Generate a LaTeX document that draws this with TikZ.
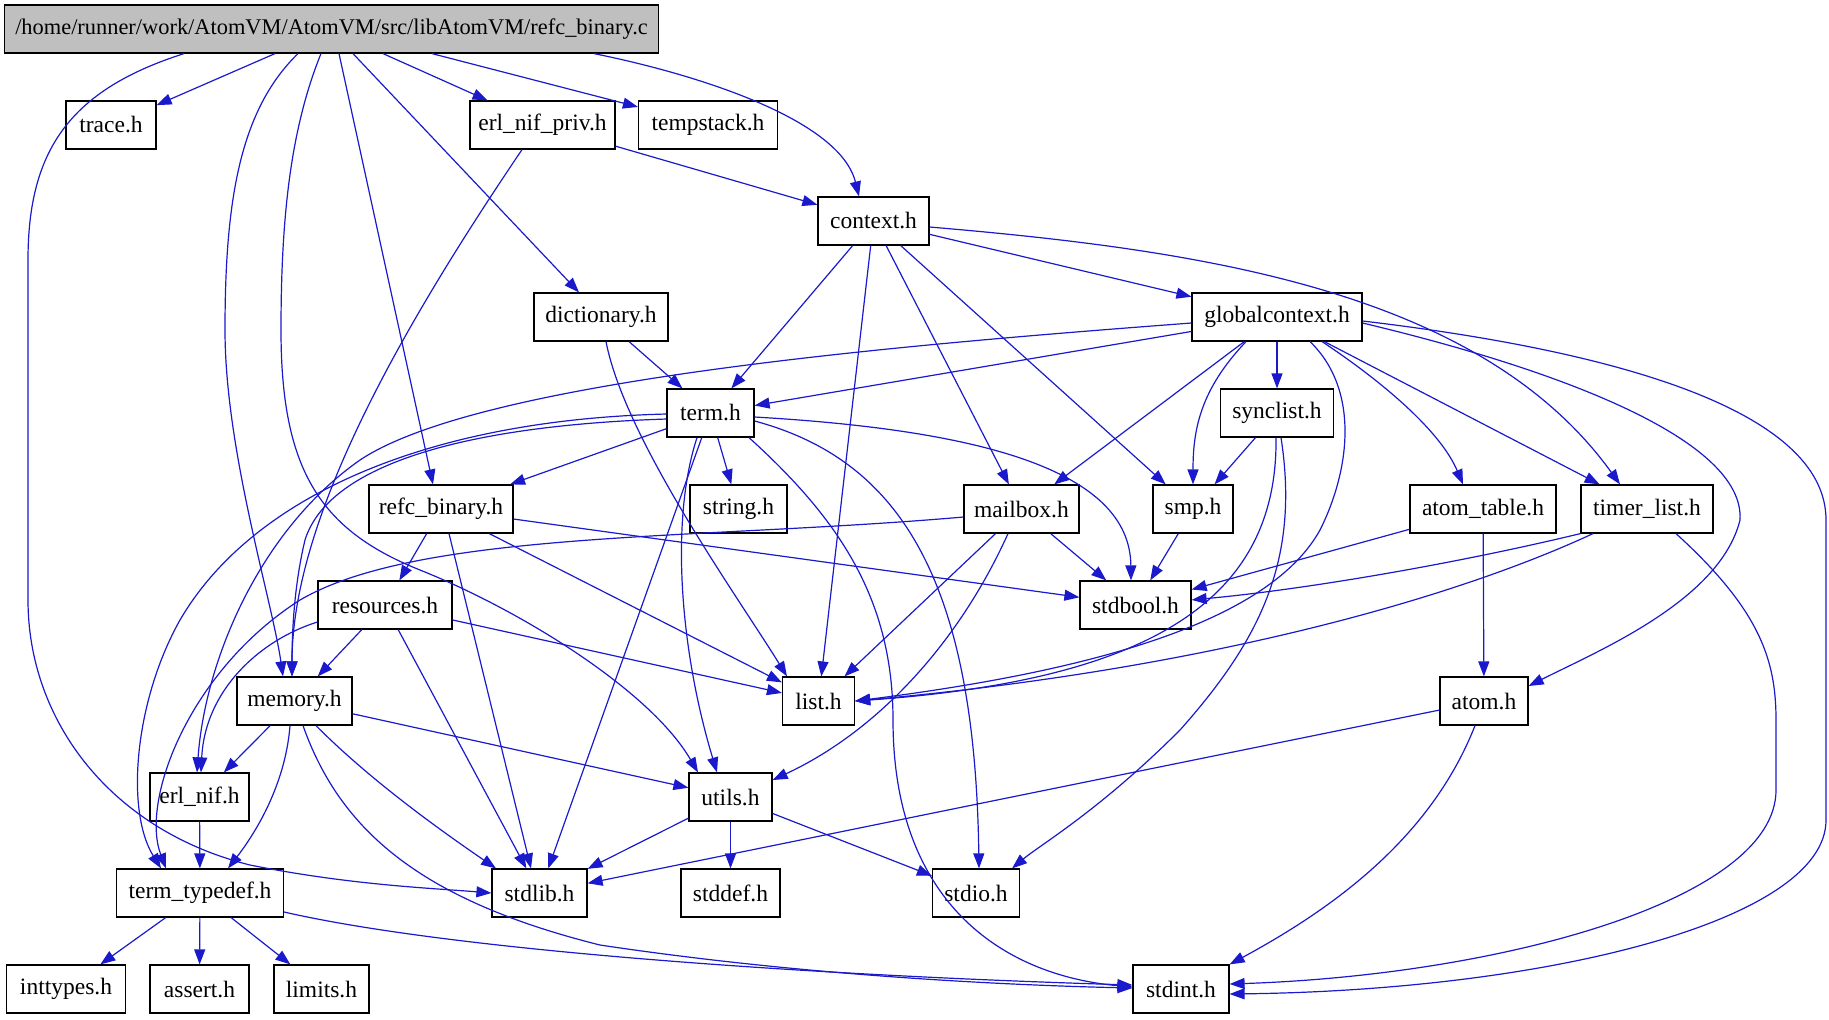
\documentclass[tikz,border=0pt]{standalone}
\usepackage{fontspec}
\setmainfont{Liberation Serif}
\usetikzlibrary{arrows.meta}
\definecolor{edgeblue}{RGB}{26,26,204}
\definecolor{mainfill}{RGB}{191,191,191}
\tikzset{
  box/.style={draw=black, line width=0.6pt, fill=white, rectangle, inner sep=0pt,
    minimum height=24pt, font=\fontsize{11.75}{14}\selectfont},
  mainbox/.style={box, fill=mainfill, font=\fontsize{11.2}{14}\selectfont},
  e/.style={draw=edgeblue, line width=0.6pt, -{Triangle[length=7.5pt,width=5.5pt]}},
}
\begin{document}
\begin{tikzpicture}[x=0.5pt, y=-0.5pt]
\useasboundingbox (0,0) rectangle (1829,1019);
\fill[white] (0,0) rectangle (1829,1019);
% nodes
\node[mainbox, minimum width=327pt] (main) at (331.5,29) {/home/runner/work/AtomVM/AtomVM/src/libAtomVM/refc\_binary.c};
\node[box, minimum width=45pt] (trace) at (111,125) {trace.h};
\node[box, minimum width=72.5pt] (enp) at (542.5,125) {erl\_nif\_priv.h};
\node[box, minimum width=69.5pt] (tempstack) at (708,125) {tempstack.h};
\node[box, minimum width=55.5pt] (context) at (873.5,221) {context.h};
\node[box, minimum width=67pt] (dictionary) at (601,317) {dictionary.h};
\node[box, minimum width=85pt] (gc) at (1277,317) {globalcontext.h};
\node[box, minimum width=43.5pt] (term) at (710.5,413) {term.h};
\node[box, minimum width=56.5pt] (synclist) at (1277,413) {synclist.h};
\node[box, minimum width=72pt] (refcbin) at (441,509) {refc\_binary.h};
\node[box, minimum width=48.5pt] (string) at (738.5,509) {string.h};
\node[box, minimum width=57.5pt] (mailbox) at (1021.5,509) {mailbox.h};
\node[box, minimum width=40pt] (smp) at (1193,509) {smp.h};
\node[box, minimum width=73pt] (atomtable) at (1483,509) {atom\_table.h};
\node[box, minimum width=66pt] (timer) at (1647,509) {timer\_list.h};
\node[box, minimum width=67pt] (resources) at (385,605) {resources.h};
\node[box, minimum width=55.5pt] (stdbool) at (1135.5,605) {stdbool.h};
\node[box, minimum width=57.5pt] (memory) at (294.5,701) {memory.h};
\node[box, minimum width=36pt] (list) at (818.5,701) {list.h};
\node[box, minimum width=44pt] (atom) at (1484,701) {atom.h};
\node[box, minimum width=49.5pt] (erlnif) at (199.5,797) {erl\_nif.h};
\node[box, minimum width=41.5pt] (utils) at (730.5,797) {utils.h};
\node[box, minimum width=83.5pt] (tt) at (200,893) {term\_typedef.h};
\node[box, minimum width=47.5pt] (stdlib) at (539.5,893) {stdlib.h};
\node[box, minimum width=49.5pt] (stddef) at (730.5,893) {stddef.h};
\node[box, minimum width=43.5pt] (stdio) at (976,893) {stdio.h};
\node[box, minimum width=59.5pt] (inttypes) at (66,989) {inttypes.h};
\node[box, minimum width=49.5pt] (assert) at (199.5,989) {assert.h};
\node[box, minimum width=47.5pt] (limits) at (321.5,989) {limits.h};
\node[box, minimum width=48pt] (stdint) at (1181,989) {stdint.h};
% edges from main
\draw[e] (main.south -| 275,0) -- (trace);
\draw[e] (main.south -| 383,0) -- (enp);
\draw[e] (main.south -| 432,0) -- (tempstack);
\draw[e] (main.south -| 594,0) .. controls (700,75) and (840,120) .. (context.north -| 859,0);
\draw[e] (main.south -| 353,0) -- (dictionary.north -| 579,0);
\draw[e] (main.south -| 339,0) -- (refcbin.north -| 433,0);
\draw[e] (main.south -| 298,0) .. controls (240,110) and (225,200) .. (225,330) .. controls (225,450) and (272,600) .. (memory.north -| 283,0);
\draw[e] (main.south -| 321,0) .. controls (290,130) and (281,220) .. (281,330) .. controls (281,470) and (320,530) .. (420,570) .. controls (520,610) and (650,690) .. (utils.north -| 698,0);
\draw[e] (main.south -| 184,0) .. controls (70,90) and (28,150) .. (28,260) -- (28,600) .. controls (28,720) and (110,830) .. (250,865) .. controls (350,885) and (430,888) .. (stdlib.west);
% erl_nif_priv
\draw[e] (enp) -- (context);
\draw[e] (enp.south -| 522,0) .. controls (400,330) and (292,520) .. (memory.north -| 292,0);
% context
\draw[e] (context) -- (term);
\draw[e] (context) -- (list);
\draw[e] (context) -- (mailbox);
\draw[e] (context) -- (smp);
\draw[e] (context) -- (gc);
\draw[e] (context.east |- 0,227) .. controls (1200,250) and (1480,290) .. (timer.north -| 1620,0);
% dictionary
\draw[e] (dictionary) -- (term);
\draw[e] (dictionary.south -| 606,0) .. controls (625,440) and (740,600) .. (list.north -| 787,0);
% globalcontext
\draw[e] (gc) -- (term);
\draw[e] (gc.west |- 0,323) .. controls (900,345) and (480,380) .. (360,460) .. controls (260,530) and (205,660) .. (erlnif.north -| 197,0);
\draw[e] (gc) -- (synclist);
\draw[e] (gc) -- (mailbox);
\draw[e] (gc.south -| 1246,0) .. controls (1200,390) and (1193,430) .. (smp);
\draw[e] (gc.south -| 1310,0) .. controls (1360,390) and (1350,470) .. (1320,530) .. controls (1270,620) and (1100,670) .. (list.east);
\draw[e] (gc.south -| 1322,0) .. controls (1380,380) and (1440,430) .. (atomtable.north -| 1463,0);
\draw[e] (gc) -- (timer);
\draw[e] (gc.east |- 0,323) .. controls (1560,370) and (1745,440) .. (1740,520) .. controls (1720,600) and (1600,650) .. (atom.east |- 0,686);
\draw[e] (gc.east |- 0,321) .. controls (1650,355) and (1826,420) .. (1826,520) -- (1826,820) .. controls (1826,920) and (1550,990) .. (stdint.east |- 0,994);
% term
\draw[e] (term.west |- 0,414) .. controls (420,420) and (250,500) .. (180,620) .. controls (135,700) and (125,810) .. (tt.north -| 161,0);
\draw[e] (term.west |- 0,419) .. controls (480,425) and (330,460) .. (305,540) .. controls (293,590) and (292,640) .. (memory.north -| 292,0);
\draw[e] (term) -- (refcbin);
\draw[e] (term) -- (stdlib);
\draw[e] (term.south -| 697,0) .. controls (670,520) and (680,650) .. (utils.north -| 717,0);
\draw[e] (term) -- (string);
\draw[e] (term.south -| 749,0) .. controls (840,520) and (893,600) .. (893,720) .. controls (893,900) and (1000,975) .. (stdint.west |- 0,987);
\draw[e] (term.east |- 0,417) .. controls (980,430) and (1130,470) .. (stdbool.north -| 1131,0);
\draw[e] (term.east |- 0,421) .. controls (900,460) and (975,580) .. (stdio.north -| 979,0);
% synclist
\draw[e] (synclist) -- (smp);
\draw[e] (synclist.south -| 1276,0) .. controls (1278,600) and (1150,680) .. (list.east);
\draw[e] (synclist.south -| 1281,0) .. controls (1300,560) and (1260,640) .. (1180,730) .. controls (1100,810) and (1040,845) .. (stdio.north -| 1012,0);
% refc_binary.h
\draw[e] (refcbin) -- (resources);
\draw[e] (refcbin.south -| 449,0) -- (stdlib.north -| 531,0);
\draw[e] (refcbin) -- (list);
\draw[e] (refcbin) -- (stdbool);
% mailbox
\draw[e] (mailbox.west |- 0,517) .. controls (700,540) and (420,530) .. (300,600) .. controls (190,670) and (140,800) .. (tt.north -| 166,0);
\draw[e] (mailbox) -- (stdbool);
\draw[e] (mailbox) -- (list);
\draw[e] (mailbox.south -| 1008,0) .. controls (960,640) and (880,730) .. (utils.east |- 0,780);
% smp, atom_table, timer_list
\draw[e] (smp) -- (stdbool);
\draw[e] (atomtable) -- (stdbool);
\draw[e] (atomtable) -- (atom);
\draw[e] (timer.south west) .. controls (1450,565) and (1300,590) .. (stdbool);
\draw[e] (timer.south -| 1593,0) .. controls (1450,600) and (1200,670) .. (list.east);
\draw[e] (timer.south -| 1676,0) .. controls (1760,610) and (1776,660) .. (1776,720) -- (1776,790) .. controls (1776,900) and (1500,975) .. (stdint.east |- 0,984);
% resources
\draw[e] (resources) -- (memory);
\draw[e] (resources.west |- 0,622) .. controls (260,640) and (205,690) .. (erlnif.north -| 201,0);
\draw[e] (resources) -- (stdlib);
\draw[e] (resources) -- (list);
% memory
\draw[e] (memory) -- (erlnif);
\draw[e] (memory.south -| 290,0) .. controls (285,790) and (250,840) .. (tt.north -| 228,0);
\draw[e] (memory) -- (utils);
\draw[e] (memory.south -| 316,0) .. controls (370,780) and (440,830) .. (stdlib.north -| 496,0);
\draw[e] (memory.south -| 303,0) .. controls (340,830) and (420,900) .. (600,945) .. controls (800,975) and (1000,985) .. (stdint.west |- 0,988);
% atom
\draw[e] (atom) -- (stdlib);
\draw[e] (atom.south -| 1475,0) .. controls (1430,840) and (1330,910) .. (stdint.north east);
% erl_nif, utils, term_typedef
\draw[e] (erlnif) -- (tt);
\draw[e] (utils) -- (stdlib);
\draw[e] (utils) -- (stddef);
\draw[e] (utils) -- (stdio);
\draw[e] (tt) -- (inttypes);
\draw[e] (tt) -- (assert);
\draw[e] (tt) -- (limits);
\draw[e] (tt.east |- 0,912) .. controls (450,950) and (800,975) .. (stdint.west |- 0,985);
\end{tikzpicture}
\end{document}
